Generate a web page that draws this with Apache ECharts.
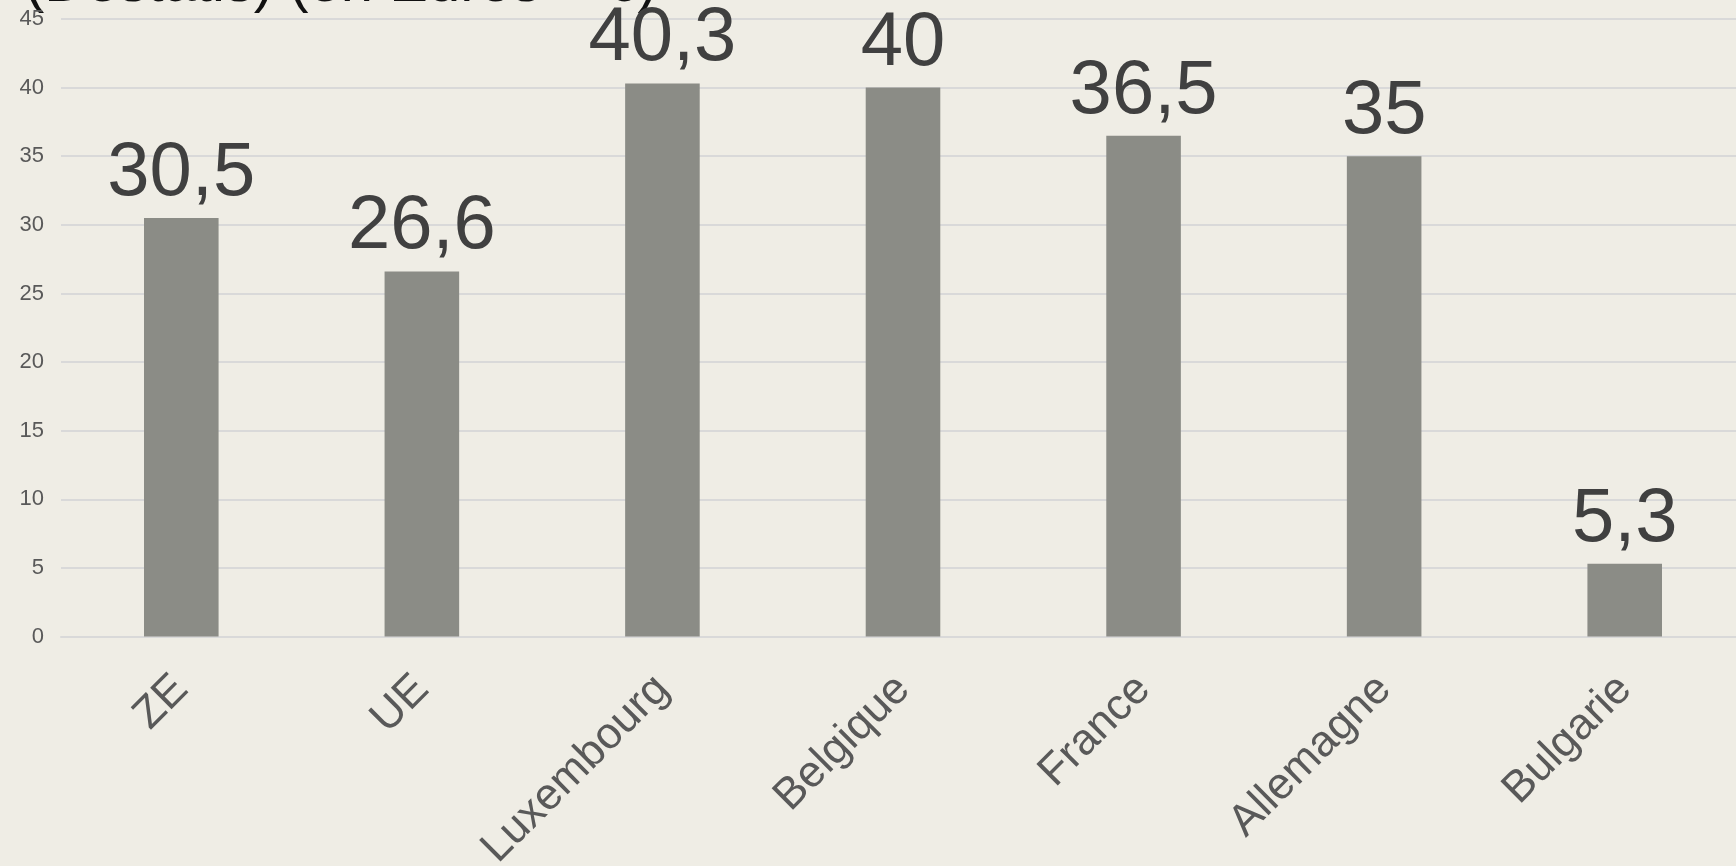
<!DOCTYPE html>
<html>
<head>
<meta charset="utf-8">
<script src="https://cdn.jsdelivr.net/npm/echarts@6/dist/echarts.min.js"></script>
<style>
html,body{margin:0;padding:0;background:#EFEDE5;}
#c{width:1736px;height:866px;}
</style>
</head>
<body>
<div id="c"></div>
<script>
const categories = ['ZE', 'UE', 'Luxembourg', 'Belgique', 'France', 'Allemagne', 'Bulgarie'];
const values = [30.5, 26.6, 40.3, 40, 36.5, 35, 5.3];
const titleText = '(Destatis) (en Euros \u2013 \u20ac)';

const chart = echarts.init(document.getElementById('c'), null, {renderer: 'canvas'});
chart.setOption({
  backgroundColor: '#EFEDE5',
  animation: false,
  graphic: [{
    type: 'text',
    left: 25,
    top: -44,
    style: {
      text: titleText,
      font: '58px "Liberation Sans", Arial, sans-serif',
      fill: '#111111'
    }
  }],
  grid: {left: 61, top: 19, width: 1684, height: 617.5, outerBoundsMode: 'none', containLabel: false},
  xAxis: {
    type: 'category',
    data: categories,
    axisLine: {show: true, lineStyle: {color: '#D9D9D9', width: 2}},
    axisTick: {show: false},
    axisLabel: {
      rotate: 45,
      margin: 46,
      fontSize: 44,
      color: '#595959',
      fontFamily: '"Liberation Sans", Arial, sans-serif'
    }
  },
  yAxis: {
    type: 'value',
    min: 0, max: 45, interval: 5,
    axisLine: {show: false},
    axisTick: {show: false},
    splitLine: {lineStyle: {color: '#D9D9D9', width: 2}},
    axisLabel: {
      margin: 17,
      fontSize: 22,
      color: '#595959',
      fontFamily: '"Liberation Sans", Arial, sans-serif'
    }
  },
  series: [{
    type: 'bar',
    data: values,
    barWidth: '31%',
    itemStyle: {color: '#8B8C86'},
    label: {
      show: true,
      position: 'top',
      distance: 6,
      fontSize: 76,
      color: '#404040',
      fontFamily: '"Liberation Sans", Arial, sans-serif',
      formatter: p => String(p.value).replace('.', ',')
    }
  }]
});
</script>
</body>
</html>
